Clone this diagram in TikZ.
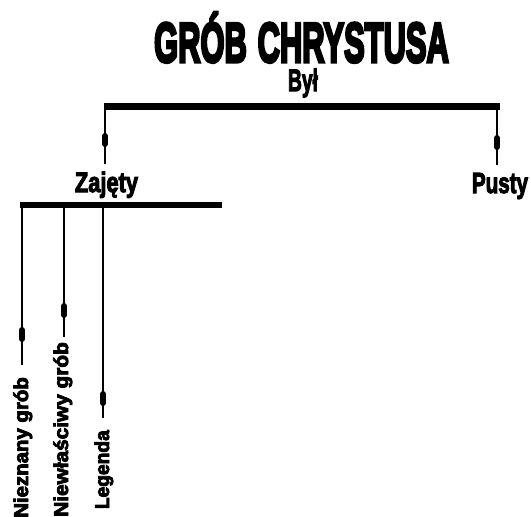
\documentclass[tikz,border=0pt]{standalone}
\usepackage{fontspec}
\newfontfamily\heavy[FakeBold=4]{Liberation Sans Bold}
\newfontfamily\heavytitle[FakeBold=6]{Liberation Sans Bold}
\usetikzlibrary{arrows.meta}
\tikzset{
  bar/.style={line width=7pt},
  stem/.style={line width=2.6pt},
  marker/.style={line width=6pt,line cap=round},
  lab/.style={inner sep=0pt,anchor=base},
  vlab/.style={inner sep=0pt,anchor=base east,rotate=90}
}
\begin{document}
\begin{tikzpicture}[x=1pt,y=-1pt]
\useasboundingbox (0,0) rectangle (531,517);
% title and labels
\node[lab] (title) at (301.5,62) {\scalebox{0.552}[1]{\fontsize{56}{60}\heavytitle GRÓB\hspace{4pt} CHRYSTUSA}};
\node[lab] (byl) at (303,91) {\scalebox{0.62}[1]{\fontsize{31}{33}\heavy Był}};
\node[lab] (zaj) at (106.5,192) {\scalebox{0.78}[1]{\fontsize{28}{30}\heavy Zajęty}};
\node[lab] (pus) at (500,193) {\scalebox{0.71}[1]{\fontsize{29}{31}\heavy Pusty}};
\node[vlab] (nie) at (28,377) {\scalebox{1.02}[1]{\fontsize{20}{22}\heavy Nieznany grób}};
\node[vlab] (niew) at (68,342) {\scalebox{1.04}[1]{\fontsize{20}{22}\heavy Niewłaściwy grób}};
\node[vlab] (leg) at (109,430) {\scalebox{0.96}[1]{\fontsize{20}{22}\heavy Legenda}};
% top bar
\coordinate (b0) at (104,106.5);
\coordinate (b1) at (500,106.5);
\draw[bar] (b0) -- (b1);
\coordinate (s1) at (105,106.5);
\coordinate (e1) at (105,164);
\coordinate (m1a) at (105,136);
\coordinate (m1b) at (105,144);
\coordinate (s2) at (497,106.5);
\coordinate (e2) at (497,165);
\coordinate (m2a) at (497,138);
\coordinate (m2b) at (497,147);
\draw[stem] (s1) -- (e1); \draw[marker] (m1a) -- (m1b);
\draw[stem] (s2) -- (e2); \draw[marker] (m2a) -- (m2b);
% second bar
\coordinate (c0) at (20,205);
\coordinate (c1) at (222,205);
\draw[line width=6pt] (c0) -- (c1);
\coordinate (u1) at (22,205);
\coordinate (w1) at (22,365);
\coordinate (m3a) at (22,330);
\coordinate (m3b) at (22,339);
\coordinate (u2) at (64,205);
\coordinate (w2) at (64,337);
\coordinate (m4a) at (64,306);
\coordinate (m4b) at (64,315);
\coordinate (u3) at (103,205);
\coordinate (w3) at (103,418);
\coordinate (m5a) at (103,394);
\coordinate (m5b) at (103,403);
\draw[stem] (u1) -- (w1); \draw[marker] (m3a) -- (m3b);
\draw[stem] (u2) -- (w2); \draw[marker] (m4a) -- (m4b);
\draw[stem] (u3) -- (w3); \draw[marker] (m5a) -- (m5b);
\end{tikzpicture}
\end{document}
